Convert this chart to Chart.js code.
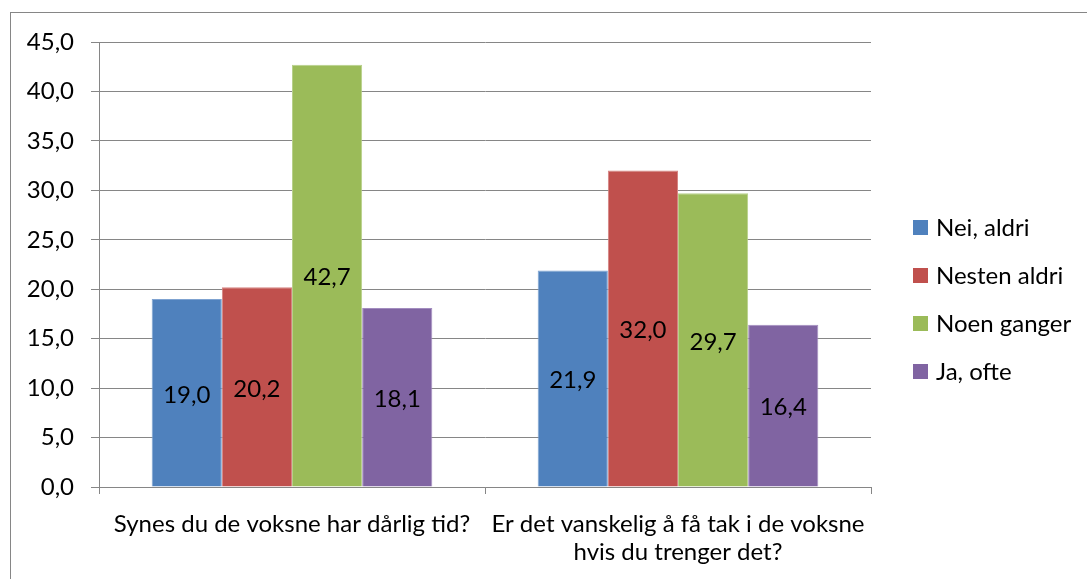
<!DOCTYPE html>
<html lang="no">
<head>
    <meta charset="UTF-8">
    <title>Voksne</title>
    <style>
        html, body { margin: 0; padding: 0; background: #fff; }
        #wrap { width: 1087px; height: 579px; }
    </style>
</head>
<body>
    <div id="wrap">
        <canvas id="chart" width="1087" height="579"></canvas>
    </div>
    <script src="https://cdn.jsdelivr.net/npm/chart.js"></script>
    <script>
        const categories = [
            'Synes du de voksne har dårlig tid?',
            ['Er det vanskelig å få tak i de voksne', 'hvis du trenger det?']
        ];
        const seriesNames = ['Nei, aldri', 'Nesten aldri', 'Noen ganger', 'Ja, ofte'];
        const neiAldri = [19.0, 21.9];
        const nestenAldri = [20.2, 32.0];
        const noenGanger = [42.7, 29.7];
        const jaOfte = [18.1, 16.4];
        const colors = ['#4F81BD', '#C0504D', '#9BBB59', '#8064A2'];
        const edges = ['#7FA3D1', '#D68381', '#B7D08A', '#A28CBF'];

        const FONT = 'Lato, "Open Sans", sans-serif';
        const SIZE = 24;
        const fmt = v => v.toFixed(1).replace('.', ',');

        // labels in the middle of each bar + legend + outer frame
        const extras = {
            id: 'extras',
            afterDatasetsDraw(chart) {
                const ctx = chart.ctx;
                ctx.save();
                ctx.font = SIZE + 'px ' + FONT;
                ctx.fillStyle = '#000';
                ctx.textAlign = 'center';
                ctx.textBaseline = 'middle';
                chart.data.datasets.forEach((ds, i) => {
                    chart.getDatasetMeta(i).data.forEach((bar, j) => {
                        const p = bar.getProps(['x', 'y', 'base'], true);
                        ctx.fillText(fmt(ds.data[j]), p.x, (p.y + p.base) / 2 + 2);
                    });
                });
                // legend
                ctx.textAlign = 'left';
                chart.data.datasets.forEach((ds, i) => {
                    const y = 227 + i * 48;
                    ctx.fillStyle = ds.backgroundColor;
                    ctx.fillRect(913, y - 7, 15, 15);
                    ctx.fillStyle = '#000';
                    ctx.fillText(ds.label, 936, y + 1);
                });
                // frame
                ctx.strokeStyle = '#868686';
                ctx.lineWidth = 1;
                ctx.strokeRect(10.5, 12.5, 1100, 600);
                ctx.restore();
            }
        };

        new Chart(document.getElementById('chart'), {
            type: 'bar',
            data: {
                labels: categories,
                datasets: [neiAldri, nestenAldri, noenGanger, jaOfte].map((d, i) => ({
                    label: seriesNames[i],
                    data: d,
                    backgroundColor: colors[i],
                    borderColor: edges[i],
                    borderWidth: 1,
                    categoryPercentage: 0.727,
                    barPercentage: 1
                }))
            },
            options: {
                responsive: false,
                animation: false,
                layout: { padding: { left: 10, top: 42, right: 216, bottom: 4 } },
                plugins: {
                    legend: { display: false },
                    tooltip: { enabled: false }
                },
                scales: {
                    x: {
                        offset: true,
                        grid: {
                            offset: true,
                            drawOnChartArea: false,
                            color: '#868686',
                            tickLength: 7
                        },
                        border: { color: '#868686' },
                        ticks: {
                            color: '#000',
                            font: { family: FONT, size: SIZE, lineHeight: 1.17 },
                            maxRotation: 0,
                            autoSkip: false,
                            padding: 16
                        },
                        afterFit: s => { s.height = 88; }
                    },
                    y: {
                        min: 0,
                        max: 45,
                        grid: { color: '#868686', tickLength: 8 },
                        border: { color: '#868686' },
                        ticks: {
                            stepSize: 5,
                            color: '#000',
                            font: { family: FONT, size: SIZE },
                            padding: 17,
                            callback: v => fmt(v)
                        },
                        afterFit: s => { s.width = 89; }
                    }
                }
            },
            plugins: [extras]
        });
    </script>
</body>
</html>
